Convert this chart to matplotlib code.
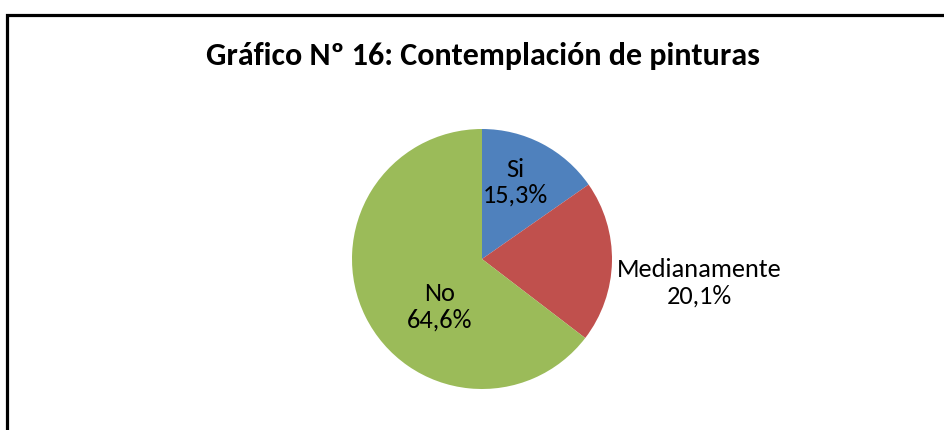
import matplotlib
matplotlib.use("Agg")
import matplotlib.pyplot as plt
from matplotlib.patches import Rectangle
import numpy as np

categories = ["Si", "Medianamente", "No"]
values = [15.3, 20.1, 64.6]
value_labels = ["15,3%", "20,1%", "64,6%"]
colors = ["#4F81BD", "#C0504D", "#9BBB59"]
title = "Gráfico Nº 16: Contemplación de pinturas"

W, H = 945, 430
fig = plt.figure(figsize=(W / 100, H / 100), dpi=100)
ax = fig.add_axes([0, 0, 1, 1])

cx, cy, r = 482, H - 259, 130
wedges, _ = ax.pie(values, colors=colors, startangle=90, counterclock=False,
                   center=(cx, cy), radius=r, frame=True,
                   wedgeprops=dict(linewidth=0))
ax.set_xlim(0, W)
ax.set_ylim(0, H)
ax.set_aspect("equal")
ax.axis("off")

# frame (cut at right and bottom as in reference)
ax.add_patch(Rectangle((6.5, -20), W + 40, H - 14.5 + 20, fill=False,
                       edgecolor="black", linewidth=2.3, clip_on=False))

# label placement (distance as fraction of radius, angle offset from wedge middle)
label_pos = [(0.645, 4.0), (1.68, -5.0), (0.49, 22.5)]
fam = ["Carlito", "Lato", "DejaVu Sans"]
for w, cat, vl, (d, off) in zip(wedges, categories, value_labels, label_pos):
    mid = np.deg2rad((w.theta1 + w.theta2) / 2 + off)
    x = cx + d * r * np.cos(mid)
    y = cy + d * r * np.sin(mid)
    ax.text(x, y, f"{cat}\n{vl}", ha="center", va="center", fontsize=19,
            family=fam, linespacing=1.15, color="black")

ax.text(W / 2 + 10, H - 56, title, ha="center", va="center", fontsize=23,
        fontweight="bold", family=fam)

fig.savefig("out.png", dpi=100)
